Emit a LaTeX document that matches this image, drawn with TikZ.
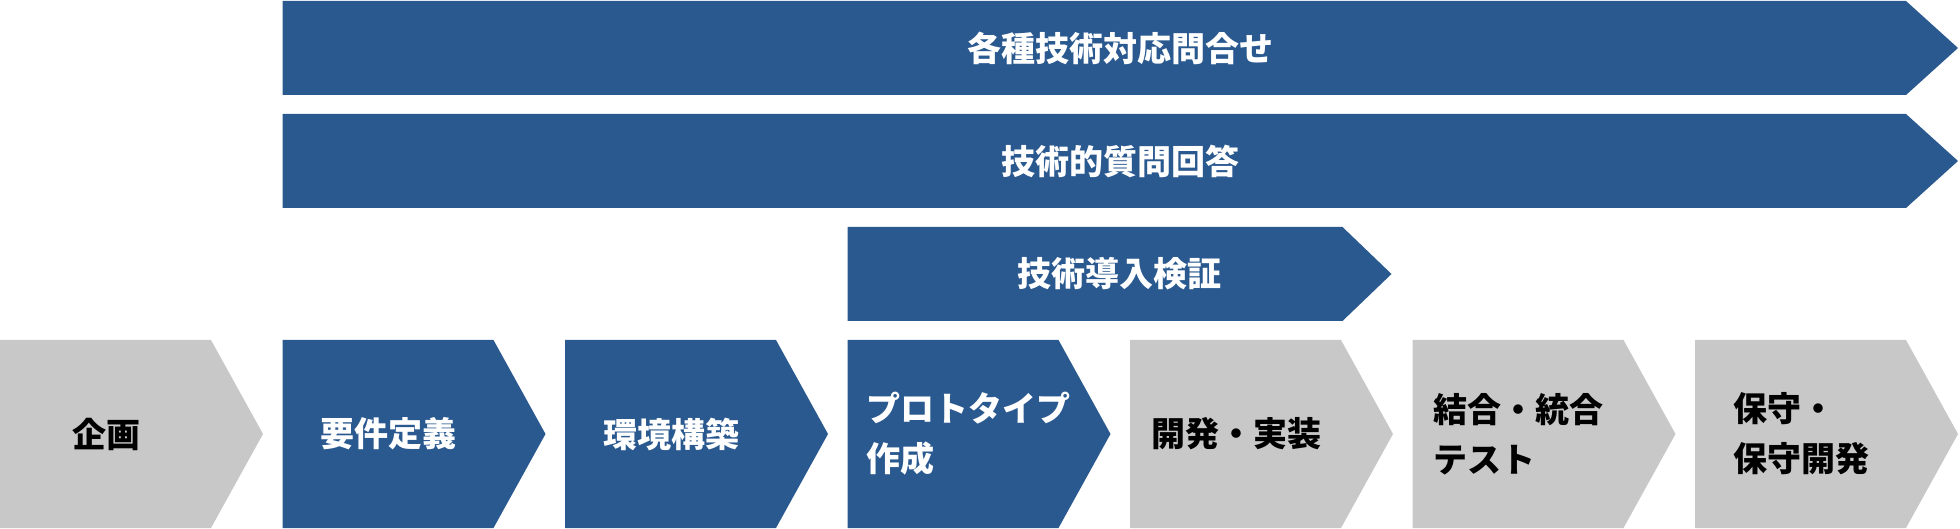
\documentclass[tikz,border=0pt]{standalone}
\usepackage{fontspec}
\setmainfont{Noto Sans CJK JP}
\definecolor{flowblue}{RGB}{42,89,144}
\definecolor{flowgray}{RGB}{200,200,200}
\tikzset{
  barlabel/.style={font=\fontsize{17}{25}\selectfont\bfseries, text=white},
  phaselabel/.style={font=\fontsize{17}{25}\selectfont\bfseries, align=left},
}
\begin{document}
\begin{tikzpicture}[x=0.5pt, y=-0.5pt]
\useasboundingbox (0,0) rectangle (1960,529);
% support bars
\fill[flowblue] (282.5,1)--(1906,1)--(1958,48)--(1906,95)--(282.5,95)--cycle;
\node[barlabel] (inquiry) at (1120,48) {各種技術対応問合せ};
\fill[flowblue] (282.5,114)--(1906,114)--(1958,161)--(1906,208)--(282.5,208)--cycle;
\node[barlabel] (answer) at (1120,161) {技術的質問回答};
\fill[flowblue] (847.5,227)--(1342.5,227)--(1391.5,274)--(1342.5,321)--(847.5,321)--cycle;
\node[barlabel] (verify) at (1119.5,274) {技術導入検証};
% process row
\foreach \col/\tcol/\dx/\txt [count=\n from 0] in {
  flowgray/black/0/{企画},
  flowblue/white/0/{要件定義},
  flowblue/white/0/{環境構築},
  flowblue/white/15/{プロトタイプ\\作成},
  flowgray/black/0/{開発・実装},
  flowgray/black/0/{結合・統合\\テスト},
  flowgray/black/0/{保守・\\保守開発}}{
  \pgfmathsetmacro\l{\n*282.5}
  \fill[\col] (\l,340)--(\l+211,340)--(\l+263,434)--(\l+211,528)--(\l,528)--cycle;
  \node[phaselabel, text=\tcol] (phase\n) at (\l+106+\dx,434) {\txt};
}
\end{tikzpicture}
\end{document}
